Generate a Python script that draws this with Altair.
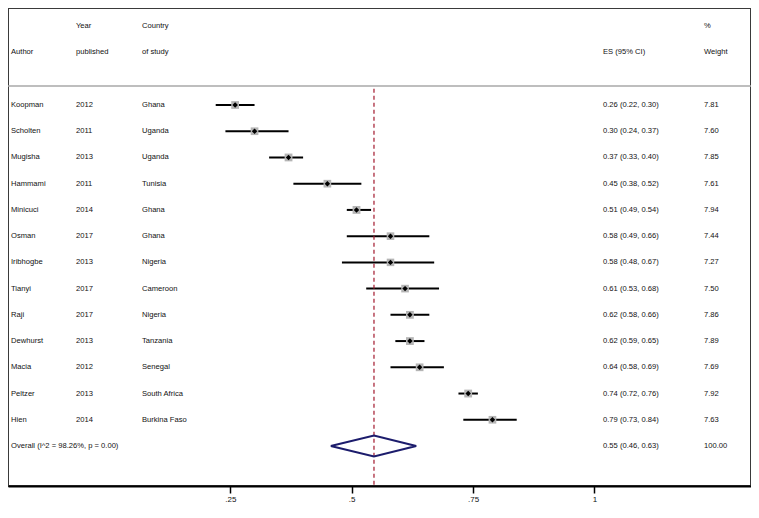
import altair as alt
import pandas as pd

# ---- data ----
authors = ["Koopman", "Scholten", "Mugisha", "Hammami", "Minicuci", "Osman", "Iribhogbe",
           "Tianyi", "Raji", "Dewhurst", "Macia", "Peltzer", "Hien"]
years = ["2012", "2011", "2013", "2011", "2014", "2017", "2013", "2017", "2017", "2013",
         "2012", "2013", "2014"]
countries = ["Ghana", "Uganda", "Uganda", "Tunisia", "Ghana", "Ghana", "Nigeria", "Cameroon",
             "Nigeria", "Tanzania", "Senegal", "South Africa", "Burkina Faso"]
es = [0.26, 0.30, 0.37, 0.45, 0.51, 0.58, 0.58, 0.61, 0.62, 0.62, 0.64, 0.74, 0.79]
lo = [0.22, 0.24, 0.33, 0.38, 0.49, 0.49, 0.48, 0.53, 0.58, 0.59, 0.58, 0.72, 0.73]
hi = [0.30, 0.37, 0.40, 0.52, 0.54, 0.66, 0.67, 0.68, 0.66, 0.65, 0.69, 0.76, 0.84]
weights = [7.81, 7.60, 7.85, 7.61, 7.94, 7.44, 7.27, 7.50, 7.86, 7.89, 7.69, 7.92, 7.63]

overall_label = "Overall  (I^2 = 98.26%, p = 0.00)"
overall_es = 0.546
overall_lo = 0.457
overall_hi = 0.633
overall_weight = 100.00

tick_values = [0.25, 0.5, 0.75, 1]

# ---- tables ----
n = len(authors)
rows = pd.DataFrame({
    "row": list(range(n)) + [n],
    "author": authors + [overall_label],
    "year": years + [""],
    "country": countries + [""],
    "es": es + [overall_es],
    "lo": lo + [overall_lo],
    "hi": hi + [overall_hi],
    "weight": weights + [overall_weight],
    "kind": ["study"] * n + ["overall"],
})
rows["estext"] = [f"{e:.2f} ({l:.2f}, {h:.2f})" for e, l, h in zip(rows.es, rows.lo, rows.hi)]
rows["wtext"] = [f"{w:.2f}" for w in rows.weight]
study_rows = rows[rows.kind == "study"].copy()

header = pd.DataFrame({
    "row": [-2.01, -3.01, -2.01, -3.01, -2.01, -2.01, -3.01, -2.01],
    "text": ["Author", "Year", "published", "Country", "of study", "ES (95% CI)", "%", "Weight"],
    "col": ["a", "y", "y", "c", "c", "e", "w", "w"],
})

dh = 0.40  # half height of the pooled diamond, in rows
diamond = pd.DataFrame({
    "ord": [0, 1, 2, 3, 4],
    "x": [overall_lo, overall_es, overall_hi, overall_es, overall_lo],
    "row": [n, n - dh, n, n + dh, n],
})

# ---- scales ----
W, H = 743, 478
Y_TOP, Y_BOT = -3.698, 14.525
refline = pd.DataFrame({"x": [overall_es], "row": [-0.62], "row2": [Y_BOT]})
sepline = pd.DataFrame({"row": [-0.72]})

x_scale = alt.Scale(domain=[-0.20783, 1.32256], zero=False, nice=False)
y_scale = alt.Scale(domain=[Y_TOP, Y_BOT], zero=False, nice=False, reverse=True)
x_axis = alt.Axis(values=tick_values, format=".2~f",
                  labelExpr="replace(datum.label, '0.', '.')",
                  grid=False, domain=True, title=None)
FONT = "Liberation Sans"
FS = 7.6
TXT = "#111111"

def xcol(field):
    return alt.X(f"{field}:Q", scale=x_scale, axis=x_axis, title=None)

def ycol(field="row"):
    return alt.Y(f"{field}:Q", scale=y_scale, axis=None)

def text_layer(df, field, xpx):
    return alt.Chart(df).mark_text(align="left", baseline="middle", font=FONT, fontSize=FS,
                                   fill=TXT, color=TXT).encode(
        x=alt.value(xpx), y=ycol(), text=f"{field}:N")

cols = {"a": 3, "y": 68, "c": 134, "e": 595, "w": 696}
layers = []

# confidence intervals
layers.append(alt.Chart(study_rows).mark_rule(color="black", strokeWidth=2).encode(
    x=xcol("lo"), x2="hi:Q", y=ycol()))

# header separator line
layers.append(alt.Chart(sepline).mark_rule(color="#a8a8a8", strokeWidth=1.5).encode(
    x=alt.value(0), x2=alt.value(W), y=ycol()))

# pooled estimate dashed line
layers.append(alt.Chart(refline).mark_rule(color="#a3182e", strokeDash=[4, 3], strokeWidth=1.2).encode(
    x=xcol("x"), y=ycol(), y2="row2:Q"))

# weight squares
layers.append(alt.Chart(study_rows).mark_square(color="#b5b5b5", opacity=1).encode(
    x=xcol("es"), y=ycol(),
    size=alt.Size("weight:Q", scale=alt.Scale(domain=[0, 8], range=[0, 62]), legend=None)))

# point estimates
layers.append(alt.Chart(study_rows).mark_point(shape="diamond", filled=True, color="black", size=30, opacity=1).encode(
    x=xcol("es"), y=ycol()))

# pooled diamond
layers.append(alt.Chart(diamond).mark_line(color="#1c1c6c", strokeWidth=2).encode(
    x=xcol("x"), y=ycol(), order="ord:O"))

# table text
layers.append(text_layer(rows, "author", cols["a"]))
layers.append(text_layer(study_rows, "year", cols["y"]))
layers.append(text_layer(study_rows, "country", cols["c"]))
layers.append(text_layer(rows, "estext", cols["e"]))
layers.append(text_layer(rows, "wtext", cols["w"]))

# header text
for c, xpx in cols.items():
    layers.append(text_layer(header[header.col == c], "text", xpx))

chart = alt.layer(*layers).properties(
    width=W, height=H,
    autosize=alt.AutoSizeParams(type="none"),
    padding={"left": 0, "top": 0, "right": 0, "bottom": 18},
    background="white",
).configure_view(
    stroke="#3a3a3a", strokeWidth=2
).configure_axis(
    domainColor="black", domainWidth=2, tickColor="black", tickWidth=1.5, tickSize=7,
    labelFont=FONT, labelFontSize=8, labelColor="#111111", labelPadding=2,
)

chart.save("out.html", embed_options={"renderer": "svg", "actions": False})
